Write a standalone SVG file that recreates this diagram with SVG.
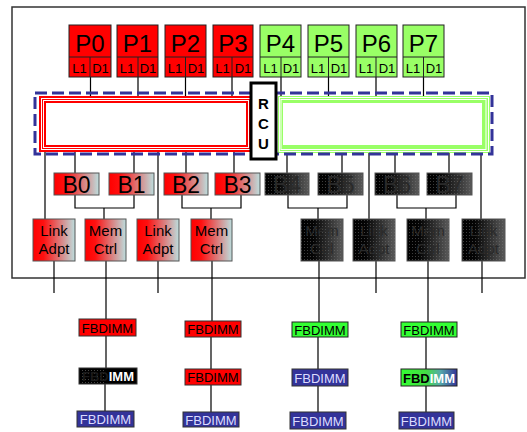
<svg xmlns="http://www.w3.org/2000/svg" width="527" height="432" viewBox="0 0 527 432">
<defs>
<linearGradient id="rb" x1="0" y1="0" x2="1" y2="0"><stop offset="0" stop-color="#ff0000"/><stop offset="0.25" stop-color="#ff1010"/><stop offset="1" stop-color="#bcdede"/></linearGradient>
<linearGradient id="kb" x1="0" y1="0" x2="1" y2="0"><stop offset="0" stop-color="#000"/><stop offset="0.3" stop-color="#050505"/><stop offset="1" stop-color="#5a5a5a"/></linearGradient>
<linearGradient id="gb" x1="0" y1="0" x2="1" y2="0"><stop offset="0" stop-color="#33ff33"/><stop offset="0.45" stop-color="#44dd44"/><stop offset="0.7" stop-color="#55aaaa"/><stop offset="1" stop-color="#333399"/></linearGradient>
<pattern id="dots" width="3" height="3" patternUnits="userSpaceOnUse"><rect x="1" y="1" width="1" height="1" fill="#777"/></pattern>
</defs>
<style>
text{font-family:"Liberation Sans",Arial,sans-serif;text-anchor:middle;fill:#000}
.pr{fill:#ff0000;stroke:#222;stroke-width:1}
.pg{fill:#99ff66;stroke:#222;stroke-width:1}
.pt{font-size:24px}
.st{font-size:13px}
.bt{font-size:23px}
.lt{font-size:15px}
.ft{font-size:13px}
.bx{stroke:#555;stroke-width:1}
.ln{stroke:#000;stroke-width:1.2;fill:none}
.kt{fill:#2a2a2a}
.fr{fill:#ff0000;stroke:#333;stroke-width:1}
.fg{fill:#33ff33;stroke:#222;stroke-width:1}
.fb{fill:#333399;stroke:#333;stroke-width:1}
.wt{fill:#dcdcff}
</style>
<rect x="12" y="7" width="513" height="271" fill="none" stroke="#333" stroke-width="1.5"/>

<g id="connectors">
<path class="ln" d="M90.5 77V96M138 77V96M185.5 77V96M232 77V96M281 77V96M328.5 77V96M376 77V96M423.5 77V96"/>
<path class="ln" d="M45 150V219M75 150V173M134 150V173M158 150V219M186 150V173M234 150V173"/>
<path class="ln" d="M287 150V173M342 150V173M369 150V219M395 150V173M449 150V173M481 150V219"/>
<path class="ln" d="M75 195V208H134V195M104 208V219M182 195V208H241V195M211 208V219M288 195V208H347V195M318 208V219M397 195V208H456V195M426 208V219"/>
<path class="ln" d="M54 261V293M106 261V319M158 261V293M212 261V321M319 261V322M376 261V293M428 261V322M482 261V293"/>
<path class="ln" d="M106 336V368M105 384V411M211 337V369M211 385V412M318 337V369M318 386V412M426 337V369M426 386V412"/>
</g>

<g id="ring-red">
<rect x="39" y="96" width="214" height="56" fill="#ff0000"/>
<rect x="41.5" y="98.5" width="209" height="51" fill="none" stroke="#fff" stroke-width="1"/>
<rect x="43.5" y="100.5" width="205" height="47" fill="none" stroke="#fff" stroke-width="1"/>
<rect x="46" y="103" width="200" height="42" fill="#fff"/>
</g>
<g id="ring-green">
<rect x="278" y="96" width="212" height="57" fill="#99ff66"/>
<rect x="279.5" y="97.5" width="209" height="54" fill="none" stroke="#fff" stroke-width="1"/>
<rect x="281" y="99.5" width="205" height="50" fill="none" stroke="#fff" stroke-width="1"/>
<rect x="283" y="103" width="199" height="42" fill="#fff"/>
</g>
<rect x="35" y="93" width="457" height="61" fill="none" stroke="#333399" stroke-width="3" stroke-dasharray="12,5"/>
<g id="rcu">
<rect x="251" y="83" width="25" height="76" fill="#fff" stroke="#000" stroke-width="3"/>
<text x="263.5" y="109" font-size="15" font-weight="bold">R</text>
<text x="263.5" y="129" font-size="15" font-weight="bold">C</text>
<text x="263.5" y="149" font-size="15" font-weight="bold">U</text>
</g>

<g id="P0"><rect class="pr" x="69" y="25" width="42" height="52"/><path d="M69 57H111M90 57V77" stroke="#222"/><text class="pt" x="90" y="52">P0</text><text class="st" x="79.5" y="73">L1</text><text class="st" x="100.5" y="73">D1</text></g>
<g id="P1"><rect class="pr" x="117" y="25" width="41" height="52"/><path d="M117 57H158M138 57V77" stroke="#222"/><text class="pt" x="137.5" y="52">P1</text><text class="st" x="127" y="73">L1</text><text class="st" x="148" y="73">D1</text></g>
<g id="P2"><rect class="pr" x="165" y="25" width="41" height="52"/><path d="M165 57H206M185.5 57V77" stroke="#222"/><text class="pt" x="185.5" y="52">P2</text><text class="st" x="175" y="73">L1</text><text class="st" x="196" y="73">D1</text></g>
<g id="P3"><rect class="pr" x="213" y="25" width="40" height="52"/><path d="M213 57H253M232 57V77" stroke="#222"/><text class="pt" x="233" y="52">P3</text><text class="st" x="222.5" y="73">L1</text><text class="st" x="243" y="73">D1</text></g>
<g id="P4"><rect class="pg" x="260" y="25" width="41" height="52"/><path d="M260 57H301M281 57V77" stroke="#222"/><text class="pt" x="280.5" y="52">P4</text><text class="st" x="270.5" y="73">L1</text><text class="st" x="291" y="73">D1</text></g>
<g id="P5"><rect class="pg" x="308" y="25" width="41" height="52"/><path d="M308 57H349M328.5 57V77" stroke="#222"/><text class="pt" x="328.5" y="52">P5</text><text class="st" x="318" y="73">L1</text><text class="st" x="339" y="73">D1</text></g>
<g id="P6"><rect class="pg" x="356" y="25" width="41" height="52"/><path d="M356 57H397M376 57V77" stroke="#222"/><text class="pt" x="376.5" y="52">P6</text><text class="st" x="366" y="73">L1</text><text class="st" x="387" y="73">D1</text></g>
<g id="P7"><rect class="pg" x="403" y="25" width="41" height="52"/><path d="M403 57H444M423.5 57V77" stroke="#222"/><text class="pt" x="423.5" y="52">P7</text><text class="st" x="413" y="73">L1</text><text class="st" x="434" y="73">D1</text></g>

<g id="B0"><rect class="bx" x="54" y="173" width="45" height="22" fill="url(#rb)"/><text class="bt" x="76.5" y="193">B0</text></g>
<g id="B1"><rect class="bx" x="109" y="173" width="45" height="22" fill="url(#rb)"/><text class="bt" x="131.5" y="193">B1</text></g>
<g id="B2"><rect class="bx" x="164" y="173" width="44" height="22" fill="url(#rb)"/><text class="bt" x="186" y="193">B2</text></g>
<g id="B3"><rect class="bx" x="215" y="173" width="45" height="22" fill="url(#rb)"/><text class="bt" x="237.5" y="193">B3</text></g>
<g id="B4"><rect class="bx" x="265" y="173" width="44" height="22" fill="url(#kb)"/><rect x="265" y="173" width="44" height="22" fill="url(#dots)" opacity="0.5"/><text class="bt kt" x="287" y="193">B4</text></g>
<g id="B5"><rect class="bx" x="318" y="173" width="45" height="22" fill="url(#kb)"/><rect x="318" y="173" width="45" height="22" fill="url(#dots)" opacity="0.5"/><text class="bt kt" x="340.5" y="193">B5</text></g>
<g id="B6"><rect class="bx" x="375" y="173" width="44" height="22" fill="url(#kb)"/><rect x="375" y="173" width="44" height="22" fill="url(#dots)" opacity="0.5"/><text class="bt kt" x="397" y="193">B6</text></g>
<g id="B7"><rect class="bx" x="427" y="173" width="45" height="22" fill="url(#kb)"/><rect x="427" y="173" width="45" height="22" fill="url(#dots)" opacity="0.5"/><text class="bt kt" x="449.5" y="193">B7</text></g>

<g id="LA1"><rect class="bx" x="33" y="219" width="42" height="42" fill="url(#rb)"/><text class="lt" x="54" y="236">Link</text><text class="lt" x="54" y="254">Adpt</text></g>
<g id="MC1"><rect class="bx" x="85" y="219" width="41" height="42" fill="url(#rb)"/><text class="lt" x="105.5" y="236">Mem</text><text class="lt" x="105.5" y="254">Ctrl</text></g>
<g id="LA2"><rect class="bx" x="137" y="219" width="42" height="42" fill="url(#rb)"/><text class="lt" x="158" y="236">Link</text><text class="lt" x="158" y="254">Adpt</text></g>
<g id="MC2"><rect class="bx" x="191" y="219" width="41" height="42" fill="url(#rb)"/><text class="lt" x="211.5" y="236">Mem</text><text class="lt" x="211.5" y="254">Ctrl</text></g>
<g id="MC3"><rect class="bx" x="301" y="219" width="42" height="42" fill="url(#kb)"/><rect x="301" y="219" width="42" height="42" fill="url(#dots)" opacity="0.5"/><text class="lt kt" x="322" y="236">Mem</text><text class="lt kt" x="322" y="254">Ctrl</text></g>
<g id="LA3"><rect class="bx" x="353" y="219" width="42" height="42" fill="url(#kb)"/><rect x="353" y="219" width="42" height="42" fill="url(#dots)" opacity="0.5"/><text class="lt kt" x="374" y="236">Link</text><text class="lt kt" x="374" y="254">Adpt</text></g>
<g id="MC4"><rect class="bx" x="407" y="219" width="42" height="42" fill="url(#kb)"/><rect x="407" y="219" width="42" height="42" fill="url(#dots)" opacity="0.5"/><text class="lt kt" x="428" y="236">Mem</text><text class="lt kt" x="428" y="254">Ctrl</text></g>
<g id="LA4"><rect class="bx" x="462" y="219" width="43" height="42" fill="url(#kb)"/><rect x="462" y="219" width="43" height="42" fill="url(#dots)" opacity="0.5"/><text class="lt kt" x="483.5" y="236">Link</text><text class="lt kt" x="483.5" y="254">Adpt</text></g>

<g id="F1a"><rect class="fr" x="79" y="319" width="57" height="17"/><text class="ft" x="107.5" y="332.5">FBDIMM</text></g>
<g id="F1b"><rect x="79" y="368" width="58" height="16" fill="#000" stroke="#333"/><rect x="80" y="369" width="24" height="14" fill="url(#dots)" opacity="0.6"/><text class="ft" x="108" y="381" font-weight="bold"><tspan fill="#1a1a1a">FBD</tspan><tspan fill="#fff">IMM</tspan></text></g>
<g id="F1c"><rect class="fb" x="77" y="411" width="57" height="16"/><text class="ft wt" x="105.5" y="424">FBDIMM</text></g>
<g id="F2a"><rect class="fr" x="185" y="321" width="56" height="16"/><text class="ft" x="213" y="334">FBDIMM</text></g>
<g id="F2b"><rect class="fr" x="185" y="369" width="56" height="16"/><text class="ft" x="213" y="382">FBDIMM</text></g>
<g id="F2c"><rect class="fb" x="183" y="412" width="56" height="15"/><text class="ft wt" x="211" y="424.5">FBDIMM</text></g>
<g id="F3a"><rect class="fg" x="292" y="322" width="56" height="15"/><text class="ft" x="320" y="334.5">FBDIMM</text></g>
<g id="F3b"><rect class="fb" x="292" y="369" width="56" height="17"/><text class="ft wt" x="320" y="382.5">FBDIMM</text></g>
<g id="F3c"><rect class="fb" x="290" y="412" width="56" height="17"/><text class="ft wt" x="318" y="425.5">FBDIMM</text></g>
<g id="F4a"><rect class="fg" x="401" y="322" width="56" height="15"/><text class="ft" x="429" y="334.5">FBDIMM</text></g>
<g id="F4b"><rect x="401" y="369" width="56" height="17" fill="url(#gb)" stroke="#222"/><text class="ft" x="429" y="382.5" font-weight="bold"><tspan fill="#000">FBD</tspan><tspan fill="#fff">IMM</tspan></text></g>
<g id="F4c"><rect class="fb" x="399" y="412" width="55" height="17"/><text class="ft wt" x="426.5" y="425.5">FBDIMM</text></g>
</svg>
